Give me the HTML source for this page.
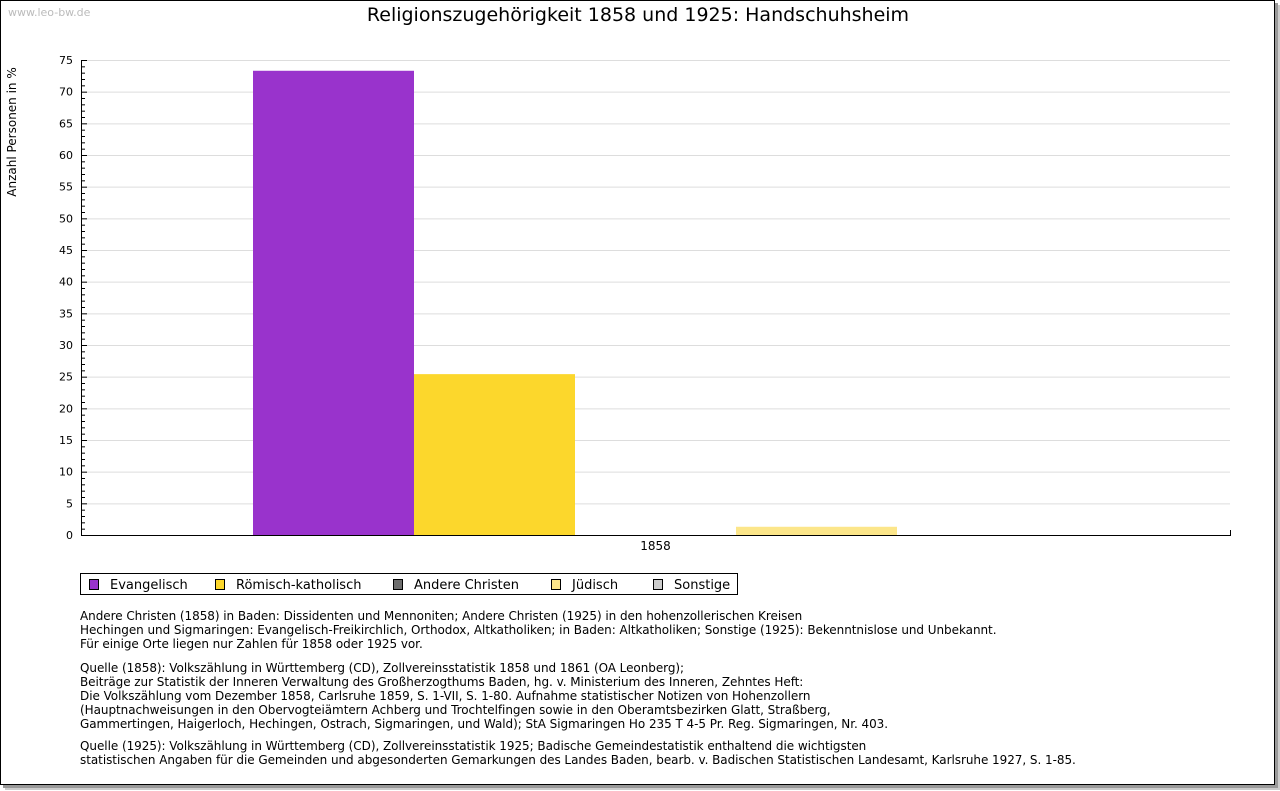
<!DOCTYPE html>
<html><head><meta charset="utf-8"><style>
body{margin:0;width:1280px;height:791px;background:#fff;overflow:hidden;font-family:"DejaVu Sans","Liberation Sans",sans-serif;}
#frame{position:absolute;left:0;top:0;width:1273px;height:783px;border:1px solid #000;background:#fff;box-shadow:3px 3px 0 #999,5px 5px 0 #ccc;}
.notes{position:absolute;left:80px;font-size:12px;line-height:14px;color:#000;white-space:pre;letter-spacing:-0.05px;}
</style></head><body>
<div id="frame"></div>
<svg width="1280" height="791" style="position:absolute;left:0;top:0" id="chart" font-family="DejaVu Sans, Liberation Sans, sans-serif">
<text x="8" y="16" font-size="11" fill="#bbb">www.leo-bw.de</text>
<text x="638" y="21" font-size="19" text-anchor="middle">Religionszugehörigkeit 1858 und 1925: Handschuhsheim</text>
<text transform="translate(16,132) rotate(-90)" font-size="12" text-anchor="middle">Anzahl Personen in %</text>
<g id="grid"></g><g id="bars"></g><g id="axes"></g>
<g>
<rect x="80.5" y="573.5" width="657" height="21" fill="#fff" stroke="#000"/>
<g id="legend"></g>
</g>
</svg>
<div class="notes" style="top:609px">Andere Christen (1858) in Baden: Dissidenten und Mennoniten; Andere Christen (1925) in den hohenzollerischen Kreisen
Hechingen und Sigmaringen: Evangelisch-Freikirchlich, Orthodox, Altkatholiken; in Baden: Altkatholiken; Sonstige (1925): Bekenntnislose und Unbekannt.
Für einige Orte liegen nur Zahlen für 1858 oder 1925 vor.</div>
<div class="notes" style="top:661px">Quelle (1858): Volkszählung in Württemberg (CD), Zollvereinsstatistik 1858 und 1861 (OA Leonberg);
Beiträge zur Statistik der Inneren Verwaltung des Großherzogthums Baden, hg. v. Ministerium des Inneren, Zehntes Heft:
Die Volkszählung vom Dezember 1858, Carlsruhe 1859, S. 1-VII, S. 1-80. Aufnahme statistischer Notizen von Hohenzollern
(Hauptnachweisungen in den Obervogteiämtern Achberg und Trochtelfingen sowie in den Oberamtsbezirken Glatt, Straßberg,
Gammertingen, Haigerloch, Hechingen, Ostrach, Sigmaringen, und Wald); StA Sigmaringen Ho 235 T 4-5 Pr. Reg. Sigmaringen, Nr. 403.</div>
<div class="notes" style="top:739px">Quelle (1925): Volkszählung in Württemberg (CD), Zollvereinsstatistik 1925; Badische Gemeindestatistik enthaltend die wichtigsten
statistischen Angaben für die Gemeinden und abgesonderten Gemarkungen des Landes Baden, bearb. v. Badischen Statistischen Landesamt, Karlsruhe 1927, S. 1-85.</div>
<script>
const categories=["1858"];
const seriesNames=["Evangelisch","Römisch-katholisch","Andere Christen","Jüdisch","Sonstige"];
const seriesValues=[[73.3],[25.4],[0],[1.3],[0]];
const seriesColors=["#9933cc","#fcd72c","#6e6e6e","#fce68a","#cccccc"];
const yTicks=[0,5,10,15,20,25,30,35,40,45,50,55,60,65,70,75];
const NS="http://www.w3.org/2000/svg";
const X0=81,X1=1230,Y0=535,Y1=60,YMAX=75;
const y=v=>Y0-(v/YMAX)*(Y0-Y1);
const catW=(X1-X0)/categories.length;
const barW=161;
function mk(t,a,p){const e=document.createElementNS(NS,t);for(const k in a)e.setAttribute(k,a[k]);p.appendChild(e);return e;}
const grid=document.getElementById('grid'),axes=document.getElementById('axes'),bars=document.getElementById('bars'),leg=document.getElementById('legend');
yTicks.forEach(v=>{
 if(v>0){const l=mk('line',{x1:X0,x2:X1,y1:y(v)+.5,y2:y(v)+.5,stroke:'#ddd'},grid);
 
 }
 const t=mk('text',{x:73,y:y(v)+4,'font-size':11,'text-anchor':'end'},axes);t.textContent=v;
 
 
 mk('line',{x1:X0,x2:X0+6,y1:y(v)+.5,y2:y(v)+.5,stroke:'#000'},axes);
});
for(let v=0;v<YMAX;v++){if(v%5)mk('line',{x1:X0,x2:X0+4,y1:y(v)+.5,y2:y(v)+.5,stroke:'#000'},axes);}
mk('line',{x1:X0+.5,x2:X0+.5,y1:Y1,y2:Y0+1,stroke:'#000'},axes);
mk('line',{x1:X0,x2:X1+1,y1:Y0+.5,y2:Y0+.5,stroke:'#000'},axes);
mk('line',{x1:X1+.5,x2:X1+.5,y1:Y0-5,y2:Y0+1,stroke:'#000'},axes);
categories.forEach((c,ci)=>{
 const cx=X0+catW*(ci+.5);const start=cx-barW*seriesNames.length/2;
 seriesNames.forEach((s,si)=>{
  const v=seriesValues[si][ci];if(v<=0)return;
  const r=mk('rect',{x:start+si*barW,y:y(v),width:barW,height:Y0-y(v),fill:seriesColors[si]},bars);
  
  
 });
 const t=mk('text',{x:cx,y:550,'font-size':12,'text-anchor':'middle'},axes);t.textContent=c;
 
 
});
const legX=[89,215,393,551,653];
seriesNames.forEach((s,i)=>{
 const g=mk('g',{},leg);
 
 
 mk('rect',{x:legX[i]+.5,y:579.5,width:9,height:10,fill:seriesColors[i],stroke:'#000'},g);
 const t=mk('text',{x:legX[i]+21,y:589,'font-size':13},g);t.textContent=s;
});
</script>
</body></html>
